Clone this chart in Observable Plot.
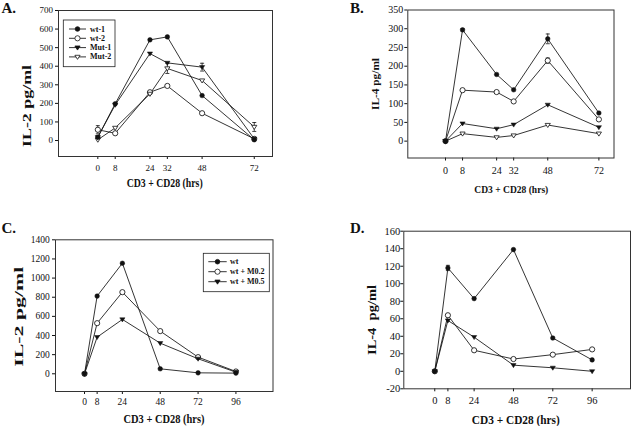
<!DOCTYPE html>
<html><head><meta charset="utf-8">
<script src="https://cdn.jsdelivr.net/npm/d3@7"></script>
<script src="https://cdn.jsdelivr.net/npm/@observablehq/plot@0.6"></script>
<style>
html,body{margin:0;padding:0;background:#fff;}
#fig{position:relative;width:631px;height:426px;overflow:hidden;background:#fff;}
#fig svg{position:absolute;max-width:none;}
</style></head><body><div id="fig"></div>
<script>
// ---------- data ----------
const hoursAB = [0, 8, 24, 32, 48, 72];
const hoursCD = [0, 8, 24, 48, 72, 96];

const namesA = ["wt-1", "wt-2", "Mut-1", "Mut-2"];
const il2A_wt1  = [18, 198, 542, 558, 242, 4];
const il2A_wt2  = [58, 39, 260, 294, 147, 9];
const il2A_mut1 = [18, 192, 468, 418, 395, 9];
const il2A_mut2 = [4, 68, 251, 388, 323, 73];
const errA_series = ["wt-2", "Mut-2", "Mut-1", "Mut-2"];
const errA_hours  = [0, 32, 48, 72];
const errA_sd     = [22, 27, 21, 24];

const il4B_wt1  = [0, 297, 178, 137, 273, 75];
const il4B_wt2  = [0, 136, 131, 106, 215, 58];
const il4B_mut1 = [0, 47, 33, 44, 97, 37];
const il4B_mut2 = [0, 20, 10, 15, 43, 20];
const errB_series = ["wt-1", "wt-1", "wt-2"];
const errB_hours  = [8, 48, 48];
const errB_sd     = [3, 13, 7];

const namesC = ["wt", "wt + M0.2", "wt + M0.5"];
const il2C_wt  = [0, 812, 1155, 52, 10, 7];
const il2C_m02 = [0, 529, 853, 446, 174, 24];
const il2C_m05 = [0, 383, 568, 320, 157, 17];

const il4D_wt  = [0, 118, 83, 139, 38, 13];
const il4D_m02 = [0, 64, 24, 14, 19, 25];
const il4D_m05 = [0, 58, 39, 7, 4, 0];
const errD_series = ["wt"];
const errD_hours  = [8];
const errD_sd     = [3];

const yTicksA = [0, 100, 200, 300, 400, 500, 600, 700];
const yTicksB = [0, 50, 100, 150, 200, 250, 300, 350];
const yTicksC = [0, 200, 400, 600, 800, 1000, 1200, 1400];
const yTicksD = [-20, 0, 20, 40, 60, 80, 100, 120, 140, 160];

const styleOf = {"wt-1":"fc","wt-2":"oc","Mut-1":"ft","Mut-2":"ot","wt":"fc","wt + M0.2":"oc","wt + M0.5":"ft"};

// ---------- symbols ----------
const downTri = {draw(ctx, size){ const r = Math.sqrt(size/Math.PI); const h = r*1.3;
  ctx.moveTo(-h, -h*0.62); ctx.lineTo(h, -h*0.62); ctx.lineTo(0, h*0.95); ctx.closePath(); }};
const capSym = {draw(ctx, size){ const r = Math.sqrt(size/Math.PI); ctx.moveTo(-r, 0); ctx.lineTo(r, 0); }};

const FONT = "Liberation Serif, Times New Roman, serif";
const fig = document.getElementById("fig");
const R_FC = 2.3, R_OC = 2.6, R_TRI = 2.0;

function panel(cfg){
  const rows = cfg.series.flatMap(s => cfg.hours.map((h,i)=>({s:s.name, h, v:s.values[i], st:styleOf[s.name]})));
  const errs = cfg.errSeries.map((s,i)=>{
    const ser = cfg.series.find(d=>d.name===s);
    const h = cfg.errHours[i];
    return {h, v: ser.values[cfg.hours.indexOf(h)], e: cfg.errSd[i]};
  });
  const ink = "#111";
  const svg = Plot.plot({
    width: cfg.width, height: cfg.height,
    marginLeft: cfg.m[0], marginRight: cfg.m[1], marginTop: cfg.m[2], marginBottom: cfg.m[3],
    style: {fontFamily: FONT, fontSize: cfg.tickFont + "px", color: "#111", background: "white"},
    x: {domain: cfg.xDomain, ticks: cfg.hours, tickSize: 3, tickPadding: cfg.padX, tickFormat: d => String(d), label: null},
    y: {domain: cfg.yDomain, ticks: cfg.yTicks, tickSize: 3, tickPadding: cfg.padY, tickFormat: d => String(d), label: null},
    marks: [
      Plot.frame({stroke: "#333", strokeWidth: 1}),
      Plot.line(rows, {x: "h", y: "v", z: "s", stroke: ink, strokeWidth: 0.85}),
      Plot.ruleX(errs, {x: "h", y1: d => d.v - d.e, y2: d => d.v + d.e, stroke: ink, strokeWidth: 0.8}),
      Plot.dot(errs, {x: "h", y: d => d.v + d.e, symbol: capSym, r: 2.0, stroke: ink, fill: "none", strokeWidth: 0.8}),
      Plot.dot(errs, {x: "h", y: d => d.v - d.e, symbol: capSym, r: 2.0, stroke: ink, fill: "none", strokeWidth: 0.8}),
      Plot.dot(rows.filter(d => d.st === "oc"), {x: "h", y: "v", r: R_OC, fill: "white", stroke: ink, strokeWidth: 0.85}),
      Plot.dot(rows.filter(d => d.st === "ot"), {x: "h", y: "v", symbol: downTri, r: R_TRI, fill: "white", stroke: ink, strokeWidth: 0.8}),
      Plot.dot(rows.filter(d => d.st === "ft"), {x: "h", y: "v", symbol: downTri, r: R_TRI, fill: ink, stroke: ink, strokeWidth: 0.5}),
      Plot.dot(rows.filter(d => d.st === "fc"), {x: "h", y: "v", r: R_FC, fill: ink, stroke: ink, strokeWidth: 0.5})
    ]
  });
  svg.style.left = cfg.left + "px";
  svg.style.top = cfg.top + "px";
  const g = d3.select(svg);
  // axis titles
  g.append("text").text(cfg.xLabel)
    .attr("x", cfg.xl[0]).attr("y", cfg.xl[1]).attr("text-anchor", "middle").attr("dominant-baseline", "central")
    .attr("font-family", FONT).attr("font-weight", "bold").attr("font-size", cfg.xl[2])
    .attr("textLength", cfg.xl[3]).attr("lengthAdjust", "spacingAndGlyphs").attr("fill", "#111");
  g.append("text").text(cfg.yLabel)
    .attr("transform", `translate(${cfg.yl[0]},${cfg.yl[1]}) rotate(-90)`)
    .attr("text-anchor", "middle").attr("dominant-baseline", "central")
    .style("white-space", "pre")
    .attr("font-family", FONT).attr("font-weight", "bold").attr("font-size", cfg.yl[2])
    .attr("textLength", cfg.yl[3]).attr("lengthAdjust", "spacingAndGlyphs").attr("fill", "#111");
  // panel tag
  g.append("text").text(cfg.tag).attr("x", cfg.tagPos[0]).attr("y", cfg.tagPos[1]).attr("text-anchor", "start")
    .attr("font-family", FONT).attr("font-weight", "bold").attr("font-size", 15).attr("fill", "#111");
  // legend
  if (cfg.legend) {
    const L = cfg.legend;
    const lg = g.append("g").attr("text-anchor", "start");
    lg.append("rect").attr("x", L.box[0]).attr("y", L.box[1]).attr("width", L.box[2]).attr("height", L.box[3])
      .attr("fill", "white").attr("stroke", "#222").attr("stroke-width", 0.8);
    cfg.series.forEach((s, i) => {
      const y = L.row0 + i * L.step;
      const st = styleOf[s.name];
      lg.append("line").attr("x1", L.line[0]).attr("x2", L.line[1]).attr("y1", y).attr("y2", y)
        .attr("stroke", ink).attr("stroke-width", 0.85);
      const mx = (L.line[0] + L.line[1]) / 2;
      const isTri = st === "ft" || st === "ot";
      const r = st === "oc" ? R_OC : isTri ? R_TRI : R_FC;
      const path = d3.symbol(isTri ? downTri : d3.symbolCircle, Math.PI * r * r)();
      lg.append("path").attr("d", path).attr("transform", `translate(${mx},${y})`)
        .attr("fill", (st === "fc" || st === "ft") ? ink : "white").attr("stroke", ink).attr("stroke-width", 0.8);
      lg.append("text").text(s.name).attr("x", L.textX).attr("y", y).attr("dominant-baseline", "central")
        .attr("text-anchor", "start")
        .attr("font-family", FONT).attr("font-weight", "bold").attr("font-size", L.font).attr("fill", "#111");
    });
  }
  fig.appendChild(svg);
}

// Panel A
panel({
  series: [{name: namesA[0], values: il2A_wt1}, {name: namesA[1], values: il2A_wt2}, {name: namesA[2], values: il2A_mut1}, {name: namesA[3], values: il2A_mut2}],
  hours: hoursAB, errSeries: errA_series, errHours: errA_hours, errSd: errA_sd,
  left: 0, top: 0, width: 300, height: 200, m: [58, 28, 10, 44],
  xDomain: [-18.1, 80.4], yDomain: [-86, 700], yTicks: yTicksA, tickFont: 9, padX: 5, padY: 2.6,
  xLabel: "CD3 + CD28 (hrs)", xl: [164.7, 183, 11.5, 76],
  yLabel: "IL-2 pg/ml", yl: [27, 106, 11.5, 82],
  tag: "A.", tagPos: [1.5, 13],
  legend: {box: [63.3, 20, 51.7, 46.7], row0: 29, step: 9.3, line: [69, 86], textX: 90, font: 8}
});
// Panel B
panel({
  series: [{name: namesA[0], values: il4B_wt1}, {name: namesA[1], values: il4B_wt2}, {name: namesA[2], values: il4B_mut1}, {name: namesA[3], values: il4B_mut2}],
  hours: hoursAB, errSeries: errB_series, errHours: errB_hours, errSd: errB_sd,
  left: 315, top: 0, width: 316, height: 200, m: [92.3, 17.5, 9.5, 42.5],
  xDomain: [-17.7, 79.1], yDomain: [-45, 350], yTicks: yTicksB, tickFont: 10, padX: 6, padY: 1.6,
  xLabel: "CD3 + CD28 (hrs)", xl: [196.3, 189, 10.5, 74],
  yLabel: "IL-4 pg/ml", yl: [60, 84, 10.5, 52],
  tag: "B.", tagPos: [35, 13]
});
// Panel C
panel({
  series: [{name: namesC[0], values: il2C_wt}, {name: namesC[1], values: il2C_m02}, {name: namesC[2], values: il2C_m05}],
  hours: hoursCD, errSeries: [], errHours: [], errSd: [],
  left: 0, top: 210, width: 300, height: 216, m: [55, 27.5, 29.3, 35],
  xDomain: [-18.4, 119.5], yDomain: [-185, 1400], yTicks: yTicksC, tickFont: 9.5, padX: 4, padY: 2.7,
  xLabel: "CD3 + CD28 (hrs)", xl: [164, 209, 11.5, 81],
  yLabel: "IL-2 pg/ml", yl: [19, 106.7, 12, 100],
  tag: "C.", tagPos: [1.5, 23],
  legend: {box: [203.3, 43.3, 66, 38.4], row0: 51.7, step: 10, line: [208.3, 226.7], textX: 230, font: 8}
});
// Panel D
panel({
  series: [{name: namesC[0], values: il4D_wt}, {name: namesC[1], values: il4D_m02}, {name: namesC[2], values: il4D_m05}],
  hours: hoursCD, errSeries: errD_series, errHours: errD_hours, errSd: errD_sd,
  left: 315, top: 210, width: 316, height: 216, m: [88.3, 1, 20.7, 37.7],
  xDomain: [-18.9, 119.4], yDomain: [-20, 160], yTicks: yTicksD, tickFont: 10.5, padX: 5, padY: 0.5,
  xLabel: "CD3 + CD28 (hrs)", xl: [200.8, 209.5, 12, 88],
  yLabel: "IL-4  pg/ml", yl: [56.7, 110, 12, 70],
  tag: "D.", tagPos: [35, 23]
});
</script></body></html>
